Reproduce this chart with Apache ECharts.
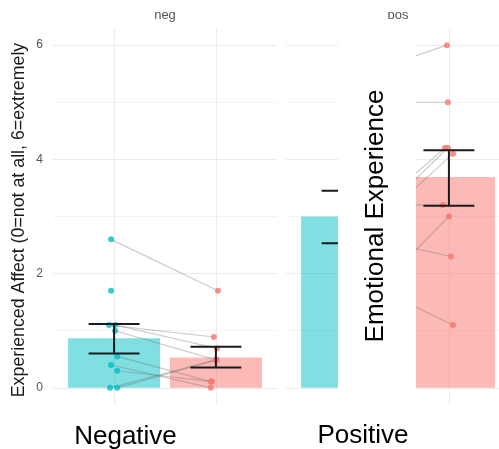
<!DOCTYPE html>
<html>
<head>
<meta charset="utf-8">
<script src="https://cdn.jsdelivr.net/npm/echarts@6/dist/echarts.min.js"></script>
<style>
html,body{margin:0;padding:0;background:#fff;}
#c{width:499px;height:449px;}
</style>
</head>
<body>
<div id="c"></div>
<script>
// ---- data ----
const facets = ['neg', 'pos'];
const tickValues = [0, 2, 4, 6];
const gridValues = [0, 1, 2, 3, 4, 5, 6];
const condX = [1, 2];

const negMeans = [0.87, 0.53];
const negErrLow = [0.60, 0.355];
const negErrHigh = [1.12, 0.72];
const posMeans = [3.0, 3.69];
const posErrLow = [2.53, 3.19];
const posErrHigh = [3.45, 4.16];

// paired participant values (first condition -> second condition)
const negFirst  = [2.6, 1.7, 1.1, 1.1, 1.0, 0.55, 0.4, 0.3, 0, 0];
const negSecond = [1.7, null, 0.89, 0.69, 0.49, 0.11, 0, 0.11, 0.49, 0.49];
const negFirstJitter  = [-0.03, -0.03, -0.05, 0.01, 0.01, 0.03, -0.03, 0.03, -0.04, 0.03];
const negSecondJitter = [0.02, 0, -0.02, 0.01, 0, -0.05, -0.05, -0.04, 0, 0.01];

const posFirst  = [5.4, 5.0, 2.7, 2.5, 2.4, 3.2, 1.2, 2.7, 2.0];
const posSecond = [6.0, 5.0, 4.2, 4.2, 4.1, 3.2, 3.0, 2.3, 1.1];
const posFirstJitter  = [0, 0, 0, 0, 0, 0, 0, 0, 0];
const posSecondJitter = [-0.02, -0.01, -0.04, -0.01, 0.04, -0.06, 0.0, 0.02, 0.04];

const yTitle = 'Experienced Affect (0=not at all, 6=extremely';
const bottomLabels = ['Negative', 'Positive'];
const overlayText = 'Emotional Experience';

// ---- styling ----
const FONT = '"Liberation Sans", Arial, sans-serif';
const TEAL = '#00BFC4', SALMON = '#F8766D';
const condColors = [TEAL, SALMON];

const chart = echarts.init(document.getElementById('c'), null, {renderer: 'canvas'});

// the second panel runs past the right edge of the picture; keep the same px per unit
const grids = [
  {left: 53, top: 28, width: 224, height: 377},
  {left: 286, top: 28, width: 213, height: 377}
];
const xRanges = [[0.4, 2.6], [0.4, 0.4 + 2.2 * 213 / 224]];

function buildFacet(i, means, lo, hi, first, second, jFirst, jSecond) {
  const series = [];
  series.push({
    type: 'line', xAxisIndex: i, yAxisIndex: i, z: 0,
    data: [], showSymbol: false, silent: true,
    markLine: {
      z: 0, silent: true, symbol: ['none', 'none'], label: {show: false},
      animation: false,
      data: gridValues.map(v => ({yAxis: v, lineStyle: {color: v % 2 === 0 ? '#EBEBEB' : '#F3F3F3', width: 1, type: 'solid'}}))
        .concat(condX.map(v => ({xAxis: v, lineStyle: {color: '#EBEBEB', width: 1, type: 'solid'}})))
    }
  });
  series.push({
    type: 'bar', xAxisIndex: i, yAxisIndex: i, z: 1, barWidth: 92,
    data: condX.map((x, k) => ({value: [x, means[k]], itemStyle: {color: condColors[k], opacity: 0.5}})),
    silent: true, animation: false
  });
  const pairs = [];
  first.forEach((v, k) => {
    if (v != null && second[k] != null) pairs.push([condX[0] + jFirst[k], v, condX[1] + jSecond[k], second[k]]);
  });
  series.push({
    type: 'custom', xAxisIndex: i, yAxisIndex: i, z: 2, silent: true, animation: false,
    encode: {x: [0, 2], y: [1, 3]},
    data: pairs,
    renderItem: (params, api) => {
      const a = api.coord([api.value(0), api.value(1)]);
      const b = api.coord([api.value(2), api.value(3)]);
      return {type: 'line', shape: {x1: a[0], y1: a[1], x2: b[0], y2: b[1]},
        style: {stroke: 'rgba(110,110,110,0.35)', lineWidth: 1.2}};
    }
  });
  series.push({
    type: 'scatter', xAxisIndex: i, yAxisIndex: i, z: 3, silent: true, animation: false,
    symbolSize: 6, itemStyle: {color: TEAL, opacity: 0.8},
    data: first.map((v, k) => v == null ? null : [condX[0] + jFirst[k], v]).filter(d => d)
  });
  series.push({
    type: 'scatter', xAxisIndex: i, yAxisIndex: i, z: 3, silent: true, animation: false,
    symbolSize: 6, itemStyle: {color: SALMON, opacity: 0.8},
    data: second.map((v, k) => v == null ? null : [condX[1] + jSecond[k], v]).filter(d => d)
  });
  series.push({
    type: 'custom', xAxisIndex: i, yAxisIndex: i, z: 4, silent: true, animation: false,
    encode: {x: 0, y: [1, 2]},
    data: condX.map((x, k) => [x, lo[k], hi[k]]),
    renderItem: (params, api) => {
      const x = api.value(0);
      const pl = api.coord([x, api.value(1)]);
      const ph = api.coord([x, api.value(2)]);
      const l = api.coord([x - 0.25, 0])[0];
      const r = api.coord([x + 0.25, 0])[0];
      const st = {stroke: '#1a1a1a', lineWidth: 2};
      return {type: 'group', children: [
        {type: 'line', shape: {x1: pl[0], y1: pl[1], x2: ph[0], y2: ph[1]}, style: st},
        {type: 'line', shape: {x1: l, y1: ph[1], x2: r, y2: ph[1]}, style: st},
        {type: 'line', shape: {x1: l, y1: pl[1], x2: r, y2: pl[1]}, style: st}
      ]};
    }
  });
  return series;
}

const xAxes = grids.map((g, i) => ({
  type: 'value', gridIndex: i, min: xRanges[i][0], max: xRanges[i][1],
  axisLine: {show: false}, axisTick: {show: false}, axisLabel: {show: false}, splitLine: {show: false}
}));
const yAxes = grids.map((g, i) => ({
  type: 'value', gridIndex: i, min: -0.3, max: 6.3,
  axisLine: {show: false}, axisTick: {show: false}, splitLine: {show: false},
  axisLabel: i === 0 ? {show: true, customValues: tickValues, color: '#555', fontSize: 12, fontFamily: FONT, margin: 10} : {show: false},
  name: i === 0 ? yTitle : '',
  nameLocation: 'middle', nameRotate: 90, nameGap: 24.5,
  nameTextStyle: {color: '#1a1a1a', fontSize: 17.8, fontFamily: FONT, padding: [0, 7, 0, 0]}
}));

const series = []
  .concat(buildFacet(0, negMeans, negErrLow, negErrHigh, negFirst, negSecond, negFirstJitter, negSecondJitter))
  .concat(buildFacet(1, posMeans, posErrLow, posErrHigh, posFirst, posSecond, posFirstJitter, posSecondJitter));

chart.setOption({
  animation: false,
  backgroundColor: '#fff',
  grid: grids,
  xAxis: xAxes,
  yAxis: yAxes,
  series: series,
  graphic: [
    {type: 'text', z: 50, x: 165, y: 15, style: {text: facets[0], font: '13px ' + FONT, fill: '#555', align: 'center', verticalAlign: 'middle'}},
    {type: 'text', z: 50, x: 398, y: 15, style: {text: facets[1], font: '13px ' + FONT, fill: '#555', align: 'center', verticalAlign: 'middle'}},
    {type: 'rect', z: 100, shape: {x: 338, y: 19, width: 78, height: 430}, style: {fill: '#fff'}},
    {type: 'text', z: 101, x: 376, y: 216, rotation: Math.PI / 2,
      style: {text: overlayText, font: '26px ' + FONT, fill: '#000', align: 'center', verticalAlign: 'middle'}},
    {type: 'text', z: 101, x: 125.5, y: 437, style: {text: bottomLabels[0], font: '26px ' + FONT, fill: '#000', align: 'center', verticalAlign: 'middle'}},
    {type: 'text', z: 101, x: 363, y: 436, style: {text: bottomLabels[1], font: '26px ' + FONT, fill: '#000', align: 'center', verticalAlign: 'middle'}}
  ]
});
</script>
</body>
</html>
